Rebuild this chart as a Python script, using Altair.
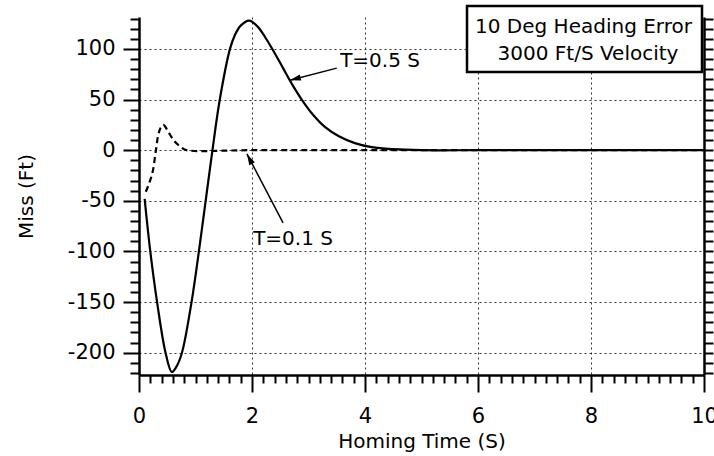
import math
import altair as alt
import pandas as pd

# ---------------- data ----------------
# Guidance time constant T = 0.5 s (solid line)
T05_TIME = [0.1, 0.2, 0.32, 0.47, 0.58, 0.66, 0.76, 0.93, 1.06, 1.18, 1.30, 1.43,
            1.61, 1.70, 1.80, 1.95, 2.10, 2.25, 2.40, 2.55, 2.70, 2.88, 3.08, 3.29,
            3.53, 3.82, 4.12, 4.5, 5.0, 6.0, 8.0, 10.0]
T05_MISS = [-48, -100, -150, -200, -219, -214, -200, -150, -100, -50, 0, 50,
            100, 114, 123, 128, 122, 110, 96, 81, 66, 50, 35, 23,
            14, 7, 3, 1, 0, 0, 0, 0]

# Guidance time constant T = 0.1 s (dashed line)
T01_TIME = [0.12, 0.19, 0.25, 0.30, 0.34, 0.43, 0.52, 0.61, 0.73, 0.84, 1.08,
            1.5, 2.0, 3.0, 10.0]
T01_MISS = [-41, -31, -19, 0, 15, 25, 18, 10, 3.6, 0, -1,
            -0.5, 0, 0, 0]

# annotations
ANN_LABELS = ["T=0.5 S", "T=0.1 S"]
ANN_TEXT_T = [3.56, 2.02]
ANN_TEXT_MISS = [82.2, -93.5]
ARROW_START_T = [3.50, 2.55]
ARROW_START_MISS = [81.0, -71.7]
ARROW_TIP_T = [2.67, 1.91]
ARROW_TIP_MISS = [69.0, -3.7]

LEGEND_LINES = ["10 Deg Heading Error", "3000 Ft/S Velocity"]

X_TITLE = "Homing Time (S)"
Y_TITLE = "Miss (Ft)"
X_DOMAIN = [0, 10]
Y_DOMAIN = [-222, 131.5]
X_TICKS = [round(i * 0.2, 1) for i in range(51)]
Y_TICKS = list(range(-220, 131, 10))

# ---------------- layout / style ----------------
FONT = "DejaVu Sans"
W, H = 565, 358

xscale = alt.Scale(domain=X_DOMAIN, nice=False, zero=False)
yscale = alt.Scale(domain=Y_DOMAIN, nice=False, zero=False)

x_axis = alt.Axis(
    values=X_TICKS,
    title=X_TITLE,
    labelExpr="datum.value % 2 === 0 ? '' + datum.value : ''",
    labelFlush=False,
    labelOverlap=False,
    labelFont=FONT,
    labelFontSize=21,
    labelColor="black",
    labelPadding=13,
    tickSize={"condition": {"test": "datum.value % 2 === 0", "value": 17}, "value": 8},
    tickWidth=2,
    tickColor="black",
    domainColor="black",
    domainWidth=2.5,
    grid=True,
    gridOpacity={"condition": {"test": "datum.value % 2 === 0 && datum.value > 0 && datum.value < 10",
                               "value": 1}, "value": 0},
    gridColor="#333333",
    gridDash=[2, 3],
    gridWidth=1,
    titleFont=FONT,
    titleFontSize=20,
    titleFontWeight="normal",
    titleColor="black",
    titleX=W / 2,
    titleY=72,
    titleAlign="center",
    titleBaseline="alphabetic",
)

y_axis = alt.Axis(
    values=Y_TICKS,
    title=Y_TITLE,
    labelExpr="datum.value % 50 === 0 ? '' + datum.value : ''",
    labelOverlap=False,
    labelFont=FONT,
    labelFontSize=21,
    labelColor="black",
    labelPadding=8,
    tickSize={"condition": {"test": "datum.value % 50 === 0", "value": 16}, "value": 9},
    tickWidth=2,
    tickColor="black",
    domainColor="black",
    domainWidth=2.5,
    grid=True,
    gridOpacity={"condition": {"test": "datum.value % 50 === 0", "value": 1}, "value": 0},
    gridColor="#333333",
    gridDash=[2, 3],
    gridWidth=1,
    titleFont=FONT,
    titleFontSize=20,
    titleFontWeight="normal",
    titleColor="black",
    titleX=-113,
    titleY=179,
    titleAngle=270,
    titleAlign="center",
    titleBaseline="middle",
)

y_axis_right = alt.Axis(
    orient="right",
    values=Y_TICKS,
    title="",
    labels=False,
    tickSize=9,
    tickWidth=2,
    tickColor="black",
    domainColor="black",
    domainWidth=2.5,
    grid=False,
)

solid_df = pd.DataFrame({"t": T05_TIME, "miss": T05_MISS})
dash_df = pd.DataFrame({"t": T01_TIME, "miss": T01_MISS})

solid = alt.Chart(solid_df).mark_line(color="black", strokeWidth=2.2, interpolate="catmull-rom").encode(
    x=alt.X("t:Q", scale=xscale, axis=x_axis),
    y=alt.Y("miss:Q", scale=yscale, axis=y_axis),
)

dashed = alt.Chart(dash_df).mark_line(color="black", strokeWidth=2.2, strokeDash=[6, 4],
                                      interpolate="monotone").encode(
    x=alt.X("t:Q", scale=xscale, axis=None),
    y=alt.Y("miss:Q", scale=yscale, axis=y_axis_right),
)

# arrow directions (screen pixels) derived from the annotation coordinates
px_per_t = W / (X_DOMAIN[1] - X_DOMAIN[0])
px_per_m = H / (Y_DOMAIN[1] - Y_DOMAIN[0])
angles = []
for st, sm, tt, tm in zip(ARROW_START_T, ARROW_START_MISS, ARROW_TIP_T, ARROW_TIP_MISS):
    dx = (tt - st) * px_per_t
    dy = -(tm - sm) * px_per_m
    angles.append(math.degrees(math.atan2(dx, -dy)) % 360)

ann_df = pd.DataFrame({
    "label": ANN_LABELS,
    "tx": ANN_TEXT_T, "ty": ANN_TEXT_MISS,
    "sx": ARROW_START_T, "sy": ARROW_START_MISS,
    "ex": ARROW_TIP_T, "ey": ARROW_TIP_MISS,
    "ang": angles,
})

arrow_lines = alt.Chart(ann_df).mark_rule(color="black", strokeWidth=1.5).encode(
    x=alt.X("sx:Q", scale=xscale, axis=None),
    y=alt.Y("sy:Q", scale=yscale, axis=None),
    x2="ex:Q",
    y2="ey:Q",
)

ARROW_PATH = "M0,0 L-0.45,1.6 L0.45,1.6 Z"
arrow_heads = alt.Chart(ann_df).mark_point(shape=ARROW_PATH, filled=True, color="black",
                                           size=190, strokeWidth=0, opacity=1).encode(
    x=alt.X("ex:Q", scale=xscale, axis=None),
    y=alt.Y("ey:Q", scale=yscale, axis=None),
    angle=alt.Angle("ang:Q", scale=None),
)

ann_text = alt.Chart(ann_df).mark_text(font=FONT, fontSize=20, align="left", baseline="alphabetic",
                                       color="black").encode(
    x=alt.X("tx:Q", scale=xscale, axis=None),
    y=alt.Y("ty:Q", scale=yscale, axis=None),
    text="label:N",
)

legend_box = alt.Chart(pd.DataFrame({"k": [0]})).mark_rect(fill="white", stroke="black",
                                                            strokeWidth=2.5).encode(
    x=alt.value(328), x2=alt.value(563), y=alt.value(-11), y2=alt.value(55),
)

leg_df1 = pd.DataFrame({"txt": [LEGEND_LINES[0]]})
leg_df2 = pd.DataFrame({"txt": [LEGEND_LINES[1]]})
leg1 = alt.Chart(leg_df1).mark_text(font=FONT, fontSize=20, align="center", baseline="alphabetic",
                                    color="black").encode(
    text="txt:N", x=alt.value(444.5), y=alt.value(16))
leg2 = alt.Chart(leg_df2).mark_text(font=FONT, fontSize=20, align="center", baseline="alphabetic",
                                    color="black").encode(
    text="txt:N", x=alt.value(449), y=alt.value(43))

chart = alt.layer(
    solid, dashed, arrow_lines, arrow_heads, ann_text, legend_box, leg1, leg2
).resolve_axis(x="independent", y="independent").properties(
    width=W,
    height=H,
    padding={"left": 139, "top": 17, "right": 10, "bottom": 81},
    autosize=alt.AutoSizeParams(type="none"),
    background="white",
).configure_view(stroke="transparent")

chart.save("out.html", embed_options={"renderer": "svg", "actions": False})
